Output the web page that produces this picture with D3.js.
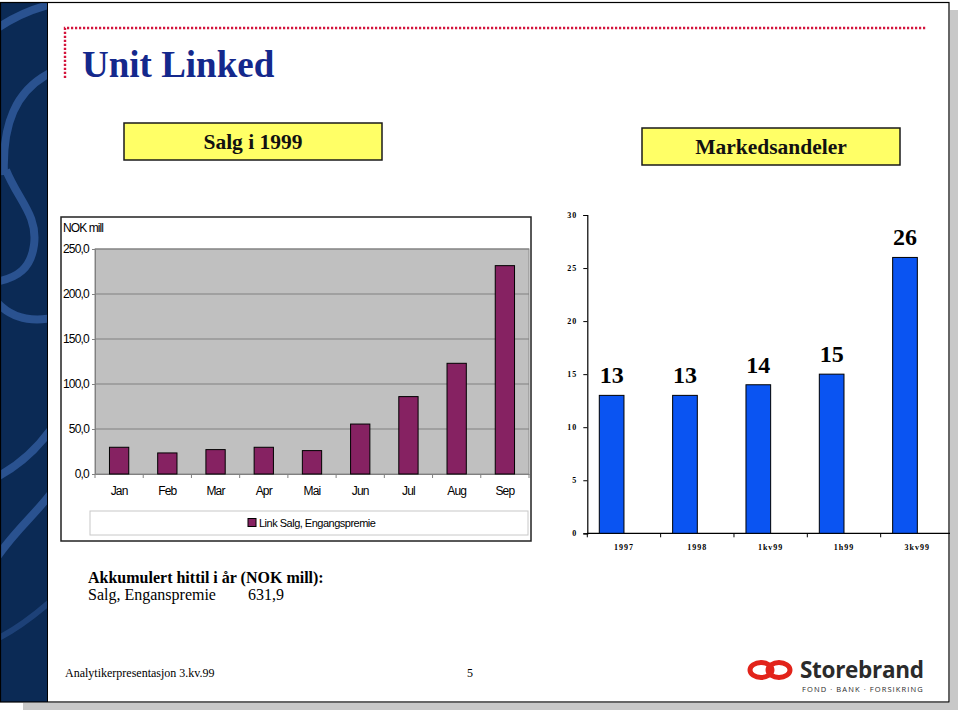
<!DOCTYPE html>
<html>
<head>
<meta charset="utf-8">
<script src="https://cdn.jsdelivr.net/npm/d3@7"></script>
<style>
  html, body { margin: 0; padding: 0; background: #ffffff; }
  svg { display: block; }
</style>
</head>
<body>
<svg id="chart" width="960" height="712"></svg>
<script>
// ---------- DATA ----------
const months = ["Jan", "Feb", "Mar", "Apr", "Mai", "Jun", "Jul", "Aug", "Sep"];
const salesValues = [29.7, 23.4, 27.1, 29.7, 26.0, 55.5, 86.0, 123.0, 231.5];
const salesTicks = [0, 50, 100, 150, 200, 250];
const salesSeriesName = "Link Salg, Engangspremie";

const shareCategories = ["1997", "1998", "1kv99", "1h99", "3kv99"];
const shareValues = [13, 13, 14, 15, 26];
const shareTicks = [0, 5, 10, 15, 20, 25, 30];
const shareSlots = ["share", "empty"];

const titleText = "Unit Linked";
const leftBoxTitle = "Salg i 1999";
const rightBoxTitle = "Markedsandeler";
const accumTitle = "Akkumulert hittil i år (NOK mill):";
const accumLabel = "Salg, Enganspremie";
const accumValue = "631,9";
const footerText = "Analytikerpresentasjon 3.kv.99";
const pageNumber = "5";

// ---------- SETUP ----------
const svg = d3.select("#chart");
const serif = "'Liberation Serif', 'Times New Roman', serif";
const sans = "'Liberation Sans', Arial, sans-serif";
const nok = d3.formatLocale({decimal: ",", thousands: " ", grouping: [3], currency: ["", " kr"]});
const fmt1 = nok.format(".1f");

// slide shadow
svg.append("rect").attr("x", 950).attr("y", 10).attr("width", 8).attr("height", 700).attr("fill", "#c8c8c8");
svg.append("rect").attr("x", 23).attr("y", 703).attr("width", 935).attr("height", 7).attr("fill", "#c8c8c8");
// slide
svg.append("rect").attr("x", 0).attr("y", 2).attr("width", 949).attr("height", 700).attr("fill", "#ffffff");

// left decorative strip
const strip = svg.append("g");
strip.append("clipPath").attr("id", "stripClip")
  .append("rect").attr("x", 0).attr("y", 2).attr("width", 47).attr("height", 700);
strip.append("rect").attr("x", 0).attr("y", 2).attr("width", 47).attr("height", 700).attr("fill", "#0b2a55");
const arcs = strip.append("g").attr("clip-path", "url(#stripClip)")
  .attr("fill", "none").attr("stroke", "#2a5290").attr("stroke-width", 8);
arcs.append("path").attr("d", "M-5,30 Q20,12 52,4");
arcs.append("path").attr("d", "M52,72 C15,90 2,125 4,175");
arcs.append("path").attr("d", "M6,170 C18,200 38,215 34,245 C31,268 18,278 -5,282");
arcs.append("path").attr("d", "M-5,300 C10,318 30,322 52,318");
arcs.append("path").attr("d", "M-5,478 C15,468 35,452 52,428");
arcs.append("path").attr("d", "M52,492 C35,515 15,530 -5,560");
arcs.append("path").attr("d", "M-5,640 C15,630 35,615 52,600").attr("stroke-width", 6).attr("opacity", 0.6);

// slide border
svg.append("rect").attr("x", 0.5).attr("y", 2.5).attr("width", 948.5).attr("height", 699.5)
  .attr("fill", "none").attr("stroke", "#000").attr("stroke-width", 1.2);
svg.append("line").attr("x1", 47.5).attr("x2", 47.5).attr("y1", 3).attr("y2", 702).attr("stroke", "#000").attr("stroke-width", 1);

// red dotted title frame
const dots = svg.append("g").attr("stroke", "#d4143c").attr("stroke-width", 2.4)
  .attr("stroke-dasharray", "2.2,1.8").attr("fill", "none");
dots.append("path").attr("d", "M65,78 L65,28 L926,28");

// title
svg.append("text").attr("x", 82).attr("y", 77).attr("font-family", serif).attr("font-weight", "bold")
  .attr("font-size", 37).attr("fill", "#14288c").text(titleText);

// yellow title boxes
function yellowBox(x, y, w, h, label, baseline) {
  svg.append("rect").attr("x", x).attr("y", y).attr("width", w).attr("height", h)
    .attr("fill", "#ffff66").attr("stroke", "#1a1a1a").attr("stroke-width", 1.5);
  svg.append("text").attr("x", x + w / 2).attr("y", baseline).attr("text-anchor", "middle")
    .attr("font-family", serif).attr("font-weight", "bold").attr("font-size", 21.5).attr("fill", "#111").text(label);
}
yellowBox(124, 123, 258, 37, leftBoxTitle, 149);
yellowBox(642, 128, 258, 37, rightBoxTitle, 154);

// ---------- LEFT CHART: Salg i 1999 ----------
const L = svg.append("g");
L.append("rect").attr("x", 61).attr("y", 217).attr("width", 470).attr("height", 324)
  .attr("fill", "#fff").attr("stroke", "#222").attr("stroke-width", 1.5);

const xL = d3.scaleBand().domain(months).range([95, 529]).paddingInner(0.6).paddingOuter(0.3);
const yL = d3.scaleLinear().domain([0, 250]).range([474, 249]);

L.append("rect").attr("x", 95).attr("y", yL(250)).attr("width", 434).attr("height", yL(0) - yL(250))
  .attr("fill", "#c0c0c0").attr("stroke", "#8a8a8a").attr("stroke-width", 1);

// gridlines
L.append("g").selectAll("line").data(salesTicks.filter(t => t > 0)).join("line")
  .attr("x1", 95).attr("x2", 529).attr("y1", d => yL(d)).attr("y2", d => yL(d))
  .attr("stroke", "#808080").attr("stroke-width", 1);

// y axis
const yAxisL = L.append("g").attr("transform", "translate(95,0)")
  .call(d3.axisLeft(yL).tickValues(salesTicks).tickFormat(fmt1).tickSize(3).tickPadding(3));
yAxisL.select(".domain").attr("stroke", "#808080");
yAxisL.selectAll(".tick line").attr("stroke", "#808080");
yAxisL.selectAll("text").attr("font-family", sans).attr("font-size", 12).attr("letter-spacing", "-0.8px").attr("fill", "#000");

// x axis
const xAxisL = L.append("g").attr("transform", `translate(0,${yL(0)})`)
  .call(d3.axisBottom(xL).tickSize(0).tickPadding(12));
xAxisL.select(".domain").attr("stroke", "#808080");
xAxisL.selectAll("text").attr("font-family", sans).attr("font-size", 12).attr("letter-spacing", "-0.8px").attr("fill", "#000");
// category boundary ticks
const stepL = xL.step();
L.append("g").selectAll("line").data(d3.range(months.length + 1)).join("line")
  .attr("x1", i => 95 + i * stepL).attr("x2", i => 95 + i * stepL)
  .attr("y1", yL(0)).attr("y2", yL(0) + 4).attr("stroke", "#808080");

// bars
L.append("g").selectAll("rect").data(months).join("rect")
  .attr("x", (d) => xL(d)).attr("width", xL.bandwidth())
  .attr("y", (d, i) => yL(salesValues[i])).attr("height", (d, i) => yL(0) - yL(salesValues[i]))
  .attr("fill", "#862262").attr("stroke", "#000").attr("stroke-width", 1);

// unit label
L.append("text").attr("x", 63).attr("y", 232).attr("font-family", sans).attr("font-size", 12)
  .attr("letter-spacing", "-0.9px").attr("fill", "#000").text("NOK mill");

// legend
L.append("rect").attr("x", 90).attr("y", 511).attr("width", 438).attr("height", 24)
  .attr("fill", "#fff").attr("stroke", "#c8c8c8").attr("stroke-width", 1);
L.append("rect").attr("x", 248).attr("y", 518.5).attr("width", 8).attr("height", 8)
  .attr("fill", "#862262").attr("stroke", "#000").attr("stroke-width", 1);
L.append("text").attr("x", 259).attr("y", 527).attr("font-family", sans).attr("font-size", 11)
  .attr("letter-spacing", "-0.5px").attr("fill", "#000").text(salesSeriesName);

// ---------- RIGHT CHART: Markedsandeler ----------
const R = svg.append("g");
const x0 = d3.scaleBand().domain(shareCategories).range([587.3, 954]).padding(0);
const x1 = d3.scaleBand().domain(shareSlots).range([0, x0.bandwidth()]).paddingInner(0).paddingOuter(0.486);
const yR = d3.scaleLinear().domain([0, 30]).range([533.3, 215]);

const yAxisR = R.append("g").attr("transform", "translate(587.3,0)")
  .call(d3.axisLeft(yR).tickValues(shareTicks).tickSize(4).tickPadding(6));
yAxisR.select(".domain").attr("stroke", "#000").attr("stroke-width", 1.2);
yAxisR.selectAll(".tick line").attr("stroke", "#000");
yAxisR.selectAll("text").attr("font-family", serif).attr("font-weight", "bold").attr("font-size", 8)
  .attr("letter-spacing", "1px").attr("fill", "#000");

// x axis line and boundary ticks
R.append("line").attr("x1", 587.3).attr("x2", 950).attr("y1", yR(0)).attr("y2", yR(0))
  .attr("stroke", "#000").attr("stroke-width", 1.2);
const stepR = x0.step();
R.append("g").selectAll("line").data(d3.range(shareCategories.length + 1).filter(i => 587.3 + i * stepR < 950)).join("line")
  .attr("x1", i => 587.3 + i * stepR).attr("x2", i => 587.3 + i * stepR)
  .attr("y1", yR(0)).attr("y2", yR(0) + 4).attr("stroke", "#000");
R.append("g").selectAll("text").data(shareCategories).join("text")
  .attr("x", d => x0(d) + x0.bandwidth() / 2).attr("y", 550).attr("text-anchor", "middle")
  .attr("font-family", serif).attr("font-weight", "bold").attr("font-size", 8)
  .attr("letter-spacing", "1px").attr("fill", "#000").text(d => d);

// bars
R.append("g").selectAll("rect").data(shareCategories).join("rect")
  .attr("x", d => x0(d) + x1("share")).attr("width", x1.bandwidth())
  .attr("y", (d, i) => yR(shareValues[i])).attr("height", (d, i) => yR(0) - yR(shareValues[i]))
  .attr("fill", "#0a54f2").attr("stroke", "#000").attr("stroke-width", 1);

// value labels
R.append("g").selectAll("text").data(shareCategories).join("text")
  .attr("x", d => x0(d) + x1("share") + x1.bandwidth() / 2)
  .attr("y", (d, i) => yR(shareValues[i]) - 12).attr("text-anchor", "middle")
  .attr("font-family", serif).attr("font-weight", "bold").attr("font-size", 24).attr("fill", "#000")
  .text((d, i) => shareValues[i]);

// ---------- BOTTOM TEXT ----------
svg.append("text").attr("x", 88).attr("y", 583).attr("font-family", serif).attr("font-weight", "bold")
  .attr("font-size", 16).attr("fill", "#000").text(accumTitle);
svg.append("text").attr("x", 88).attr("y", 600).attr("font-family", serif)
  .attr("font-size", 16).attr("fill", "#000").text(accumLabel);
svg.append("text").attr("x", 248).attr("y", 600).attr("font-family", serif)
  .attr("font-size", 16).attr("fill", "#000").text(accumValue);

svg.append("text").attr("x", 65).attr("y", 677).attr("font-family", serif)
  .attr("font-size", 12).attr("fill", "#000").text(footerText);
svg.append("text").attr("x", 467).attr("y", 677).attr("font-family", serif)
  .attr("font-size", 12).attr("fill", "#000").text(pageNumber);

// ---------- LOGO ----------
const logo = svg.append("g");
logo.append("ellipse").attr("cx", 761).attr("cy", 670).attr("rx", 11).attr("ry", 7.5)
  .attr("fill", "none").attr("stroke", "#e2231a").attr("stroke-width", 5);
logo.append("ellipse").attr("cx", 779).attr("cy", 670).attr("rx", 11).attr("ry", 7.5)
  .attr("fill", "none").attr("stroke", "#e2231a").attr("stroke-width", 5);
logo.append("text").attr("x", 800).attr("y", 678).attr("font-family", "'Open Sans', 'DejaVu Sans', sans-serif")
  .attr("font-weight", "bold").attr("font-size", 22.5).attr("letter-spacing", "-0.3px").attr("fill", "#2b2b2b").text("Storebrand");
logo.append("text").attr("x", 802).attr("y", 692).attr("font-family", "'Open Sans', 'DejaVu Sans', sans-serif")
  .attr("font-size", 7.5).attr("letter-spacing", "1.1px").attr("fill", "#2b2b2b").text("FOND · BANK · FORSIKRING");
</script>
</body>
</html>
